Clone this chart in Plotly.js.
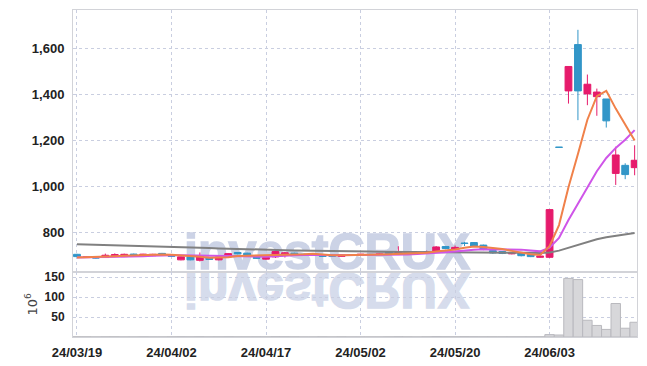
<!DOCTYPE html>
<html>
<head>
<meta charset="utf-8">
<script src="https://cdn.plot.ly/plotly-3.0.1.min.js"></script>
<style>
  html, body { margin: 0; padding: 0; background: #ffffff; }
  #wrap { position: relative; width: 647px; height: 366px; }
  #wm { position: absolute; left: 0; top: 0; }
  #chart { position: absolute; left: 0; top: 0; width: 647px; height: 366px; }
</style>
</head>
<body>
<div id="wrap">
  <svg id="wm" width="647" height="366" xmlns="http://www.w3.org/2000/svg">
    <text x="184" y="269" font-family="Liberation Sans, Arial, sans-serif" font-weight="bold" font-size="50" fill="#ccd3e6" stroke="#ccd3e6" stroke-width="1.5">investCRUX</text>
    <g transform="translate(0,542) scale(1,-1)">
      <text x="184" y="269" font-family="Liberation Sans, Arial, sans-serif" font-weight="bold" font-size="50" fill="#d6dcec" stroke="#d6dcec" stroke-width="1.5">investCRUX</text>
    </g>
  </svg>
  <div id="chart"></div>
</div>
<script>
// ---- data ----
const dates = ['24/03/19','24/03/20','24/03/21','24/03/22','24/03/25','24/03/26','24/03/27','24/03/28','24/03/29','24/04/01',
  '24/04/02','24/04/03','24/04/04','24/04/05','24/04/08','24/04/09','24/04/11','24/04/12','24/04/15','24/04/16',
  '24/04/17','24/04/18','24/04/19','24/04/22','24/04/23','24/04/24','24/04/25','24/04/26','24/04/29','24/04/30',
  '24/05/02','24/05/03','24/05/07','24/05/08','24/05/09','24/05/10','24/05/13','24/05/14','24/05/16','24/05/17',
  '24/05/20','24/05/21','24/05/22','24/05/23','24/05/24','24/05/27','24/05/28','24/05/29','24/05/30','24/05/31',
  '24/06/03','24/06/04','24/06/05','24/06/07','24/06/10','24/06/11','24/06/12','24/06/13','24/06/14','24/06/17'];

const openP = [706,692,694,692,697,696,707,703,700,710, 704,682,695,680,689,682,695,714,711,692,
  685,695,708,711,706,703,704,703,697,703, 704,706,705,716,705,716,710,710,719,740,
  729,755,757,746,722,718,708,711,705,693, 693,1171,1415,1616,1402,1390,1380,1057,1092,1082];
const highP = [708,697,696,709,710,709,709,708,708,712, 706,697,697,714,690,696,711,716,713,698,
  694,723,716,713,708,707,706,705,706,707, 708,708,709,718,741,718,714,722,742,742,
  744,760,759,748,724,720,715,713,706,702, 900,1171,1521,1680,1486,1425,1380,1173,1101,1179];
const lowP = [694,690,688,690,694,694,702,701,698,704, 695,680,680,675,682,680,693,706,701,686,
  683,690,692,702,702,701,695,696,695,701, 702,703,703,708,704,708,708,708,717,728,
  727,742,740,724,708,707,706,697,694,691, 690,1170,1360,1288,1353,1307,1256,1007,1032,1049];
const closeP = [696,695,690,702,705,706,704,706,706,706, 697,695,682,699,684,695,709,708,703,689,
  692,718,712,705,704,705,697,698,704,705, 706,705,707,710,714,710,712,716,738,731,
  736,753,742,728,712,710,713,700,696,698, 900,1170,1521,1415,1444,1410,1285,1137,1052,1114];

const volume = [0.5,0.4,0.3,0.4,0.5,0.3,0.3,0.4,0.3,0.3, 0.4,0.6,0.5,0.7,0.4,0.5,0.6,0.4,0.4,0.5,
  0.4,0.8,0.6,0.4,0.3,0.3,0.4,0.3,0.4,0.3, 0.3,0.3,0.3,0.4,0.6,0.4,0.3,0.5,0.9,0.6,
  0.5,0.8,0.6,0.5,0.5,0.4,0.4,0.4,0.4,0.5, 6,5,147,144,42,29,19,84,22,37];

const ma5 = [692,693,693,695,697.6,699.6,701.4,704.6,705.4,705.6, 703.8,702,697.2,695.8,691.4,691,693.8,699,699.8,700.8,
  700.2,702,702.8,703.2,706.2,708.8,704.6,701.8,701.6,701.8, 702,703.6,705.4,706.6,708.4,709.2,710.6,712.4,718,721.4,
  726.6,734.8,740,738,734.2,729,721,712.6,706.2,703.4, 741.4,832.8,997,1140.8,1290,1392,1415,1338.2,1265.6,1199.6];
const ma10 = [692,692.5,693,694,695,696,697,698,699.5,701.6, 701.7,701.7,700.9,700.6,698.5,697.4,697.9,698.1,697.8,696.1,
  695.6,697.9,700.9,701.5,703.5,704.5,703.3,702.3,702.4,704, 705.4,704.1,703.6,704.1,705.1,705.6,707.1,708.9,712.3,714.9,
  717.9,722.7,726.2,728,727.8,727.8,727.9,726.3,722.1,718.8, 735.2,776.9,854.8,923.5,996.7,1066.7,1123.9,1167.6,1203.2,1244.8];
const ma60 = [750,749,748,747,745.5,744,743,742,741,739.5, 738,736.5,735,734,733,731.5,730,729,728,727,
  726,725,724,723,722,721,720.5,720,719.5,719, 718.5,718,717.5,717,716.8,716.5,716.3,716,715.8,715.5,
  715.2,715,714.6,714.2,713.8,713.4,713,712.6,712.3,712, 714,722,735,748,760,771,780,787,792,798];

const xTickLabels = ['24/03/19','24/04/02','24/04/17','24/05/02','24/05/20','24/06/03'];
const priceTicks = [800,1000,1200,1400,1600];
const volTicks = [50,100,150];

// ---- styles ----
const UP = '#e61b6c', DOWN = '#3296c8';
const gridCol = '#c9cee0', lineCol = '#d2d3d8';
const tickFont = {family: 'Liberation Sans, Arial, sans-serif', size: 13, color: '#222', weight: 'bold'};

const traces = [
  {type: 'bar', x: dates, y: volume, xaxis: 'x2', yaxis: 'y2',
   marker: {color: '#d7d7da', line: {color: '#b9b9be', width: 1}}, hoverinfo: 'skip'},
  {type: 'candlestick', x: dates, open: openP, high: highP, low: lowP, close: closeP,
   xaxis: 'x', yaxis: 'y',
   increasing: {line: {color: UP, width: 1}, fillcolor: UP},
   decreasing: {line: {color: DOWN, width: 1}, fillcolor: DOWN},
   whiskerwidth: 0, hoverinfo: 'skip'},
  {type: 'scatter', mode: 'lines', x: dates, y: ma60, xaxis: 'x', yaxis: 'y',
   line: {color: '#808080', width: 2}, hoverinfo: 'skip'},
  {type: 'scatter', mode: 'lines', x: dates, y: ma10, xaxis: 'x', yaxis: 'y',
   line: {color: '#cf55e8', width: 2}, hoverinfo: 'skip'},
  {type: 'scatter', mode: 'lines', x: dates, y: ma5, xaxis: 'x', yaxis: 'y',
   line: {color: '#f0814a', width: 2}, hoverinfo: 'skip'}
];

const layout = {
  width: 647, height: 366,
  margin: {l: 73, r: 10, t: 10, b: 29},
  paper_bgcolor: 'rgba(0,0,0,0)', plot_bgcolor: 'rgba(0,0,0,0)',
  showlegend: false,
  boxgap: 0.28, boxgroupgap: 0,
  bargap: 0,
  xaxis: {
    type: 'category', anchor: 'y', matches: 'x2',
    range: [-0.42, 59.25],
    rangeslider: {visible: false},
    tickmode: 'array', tickvals: xTickLabels, showticklabels: false,
    showgrid: true, gridcolor: gridCol, griddash: 'dot', gridwidth: 1,
    showline: true, mirror: true, linecolor: lineCol, linewidth: 1,
    zeroline: false, ticks: ''
  },
  xaxis2: {
    type: 'category', anchor: 'y2',
    range: [-0.42, 59.25],
    tickmode: 'array', tickvals: xTickLabels, ticktext: xTickLabels,
    tickfont: tickFont,
    showgrid: true, gridcolor: gridCol, griddash: 'dot', gridwidth: 1,
    showline: true, mirror: true, linecolor: lineCol, linewidth: 1,
    zeroline: false, ticks: '', ticklabelstandoff: 3
  },
  yaxis: {
    domain: [0.2, 1], range: [631, 1766],
    tickmode: 'array', tickvals: priceTicks, tickformat: ',d',
    tickfont: tickFont,
    showgrid: true, gridcolor: gridCol, griddash: 'dot', gridwidth: 1,
    showline: true, mirror: true, linecolor: lineCol, linewidth: 1,
    zeroline: false, ticks: '', ticklabelstandoff: 5
  },
  yaxis2: {
    domain: [0, 0.2], range: [0, 164],
    tickmode: 'array', tickvals: volTicks,
    tickfont: Object.assign({}, tickFont, {size: 12}),
    title: {text: '10<sup>6</sup>', font: {family: 'DejaVu Sans, sans-serif', size: 13, color: '#444'}, standoff: 4},
    showgrid: true, gridcolor: gridCol, griddash: 'dot', gridwidth: 1,
    showline: true, mirror: true, linecolor: lineCol, linewidth: 1,
    zeroline: false, ticks: '', ticklabelstandoff: 5
  }
};

Plotly.newPlot('chart', traces, layout, {displayModeBar: false, staticPlot: true});
</script>
</body>
</html>
